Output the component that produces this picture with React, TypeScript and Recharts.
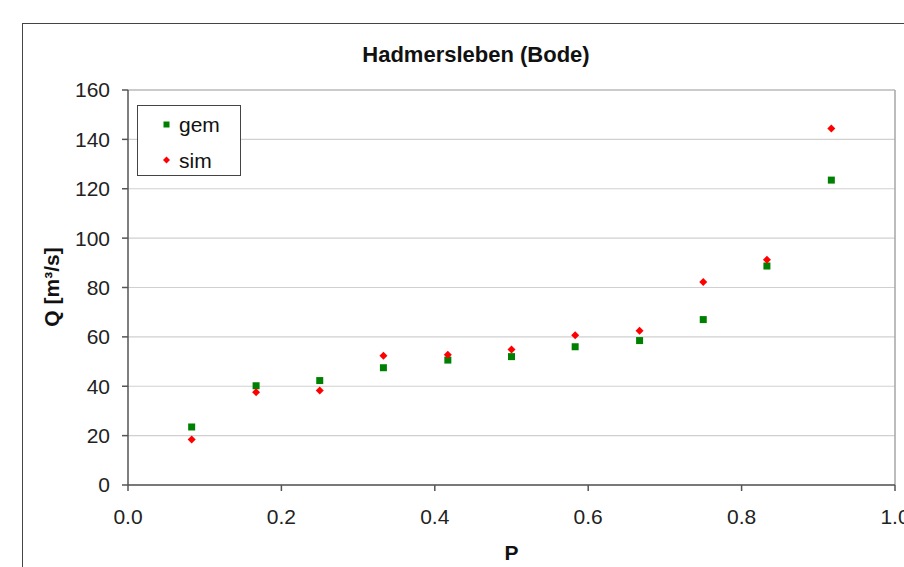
import React from 'react';
import {
  ScatterChart,
  Scatter,
  XAxis,
  YAxis,
  CartesianGrid,
  ReferenceLine,
  Legend,
} from 'recharts';

// Exceedance probability P and discharge Q [m³/s]
const pValues = [0.083, 0.167, 0.25, 0.333, 0.417, 0.5, 0.583, 0.667, 0.75, 0.833, 0.917];
const gemValues = [23.5, 40.2, 42.3, 47.5, 50.6, 52.0, 56.0, 58.5, 67.0, 88.7, 123.5];
const simValues = [18.4, 37.6, 38.3, 52.4, 52.8, 54.9, 60.7, 62.5, 82.2, 91.2, 144.4];
const xTicks = [0, 0.2, 0.4, 0.6, 0.8, 1.0];
const yTicks = [0, 20, 40, 60, 80, 100, 120, 140, 160];

const gemData = pValues.map((p, i) => ({ p, q: gemValues[i] }));
const simData = pValues.map((p, i) => ({ p, q: simValues[i] }));

const FONT = '"Liberation Sans", Arial, sans-serif';
const GREEN = '#008000';
const RED = '#ff0000';

const SquareDot = (props: any) => {
  const { cx, cy } = props;
  if (cx == null || cy == null) return null;
  return <rect x={cx - 3.5} y={cy - 3.5} width={7} height={7} fill={GREEN} />;
};

const DiamondDot = (props: any) => {
  const { cx, cy } = props;
  if (cx == null || cy == null) return null;
  const r = 4;
  return (
    <polygon
      points={`${cx},${cy - r} ${cx + r},${cy} ${cx},${cy + r} ${cx - r},${cy}`}
      fill={RED}
    />
  );
};

function LegendBox() {
  return (
    <div
      style={{
        width: 104,
        height: 71,
        boxSizing: 'border-box',
        border: '1.5px solid #444',
        background: '#fff',
        position: 'relative',
      }}
    >
      <svg width={104} height={71} style={{ position: 'absolute', left: -1.5, top: -1.5 }}>
        <rect x={26.5} y={16.5} width={6} height={6} fill={GREEN} />
        <text x={42} y={27} fontSize={21} fontFamily={FONT} fill="#111">
          gem
        </text>
        <polygon points="29.5,51.5 33,55 29.5,58.5 26,55" fill={RED} />
        <text x={42} y={62.5} fontSize={21} fontFamily={FONT} fill="#111">
          sim
        </text>
      </svg>
    </div>
  );
}

export default function App() {
  return (
    <div
      style={{
        position: 'fixed',
        left: 0,
        top: 0,
        width: 904,
        height: 567,
        overflow: 'hidden',
        background: '#fff',
      }}
    >
      {/* outer chart frame, runs past the right and bottom edges */}
      <div
        style={{
          position: 'absolute',
          left: 22,
          top: 23,
          width: 1000,
          height: 1000,
          border: '1.5px solid #444',
        }}
      />
      <div style={{ position: 'absolute', left: 0, top: 0 }}>
        <ScatterChart
          width={904}
          height={567}
          margin={{ top: 90, right: 9, bottom: 22, left: 23 }}
        >
          <CartesianGrid horizontal vertical={false} stroke="#d0d0d0" strokeWidth={1.2} />
          <XAxis
            type="number"
            dataKey="p"
            domain={[0, 1]}
            ticks={xTicks}
            tickFormatter={(v: number) => v.toFixed(1)}
            height={60}
            stroke="#555"
            strokeWidth={1.5}
            tickSize={6}
            tickMargin={18}
            tick={{ fill: '#222', fontSize: 21, fontFamily: FONT }}
            interval={0}
          />
          <YAxis
            type="number"
            dataKey="q"
            domain={[0, 160]}
            ticks={yTicks}
            width={105}
            stroke="#555"
            strokeWidth={1.5}
            tickSize={6}
            tickMargin={12}
            tick={{ fill: '#222', fontSize: 21, fontFamily: FONT }}
            interval={0}
          />
          <ReferenceLine x={1} stroke="#a6a6a6" strokeWidth={1.5} />
          <ReferenceLine y={160} stroke="#b0b0b0" strokeWidth={1.2} />
          <Legend
            layout="horizontal"
            align="center"
            verticalAlign="middle"
            content={() => <LegendBox />}
            wrapperStyle={{ left: 137, top: 105, width: 104, height: 71 }}
          />
          <Scatter name="gem" data={gemData} shape={SquareDot} isAnimationActive={false} />
          <Scatter name="sim" data={simData} shape={DiamondDot} isAnimationActive={false} />
        </ScatterChart>
      </div>
      <svg
        width={904}
        height={567}
        style={{ position: 'absolute', left: 0, top: 0, pointerEvents: 'none' }}
      >
        <text
          x={476}
          y={62}
          textAnchor="middle"
          fontSize={22}
          fontWeight="bold"
          fontFamily={FONT}
          fill="#111"
        >
          Hadmersleben (Bode)
        </text>
        <text
          transform="translate(59, 287) rotate(-90)"
          textAnchor="middle"
          fontSize={21}
          fontWeight="bold"
          fontFamily={FONT}
          fill="#111"
        >
          Q [m³/s]
        </text>
        <text
          x={511.5}
          y={560}
          textAnchor="middle"
          fontSize={21}
          fontWeight="bold"
          fontFamily={FONT}
          fill="#111"
        >
          P
        </text>
      </svg>
    </div>
  );
}
